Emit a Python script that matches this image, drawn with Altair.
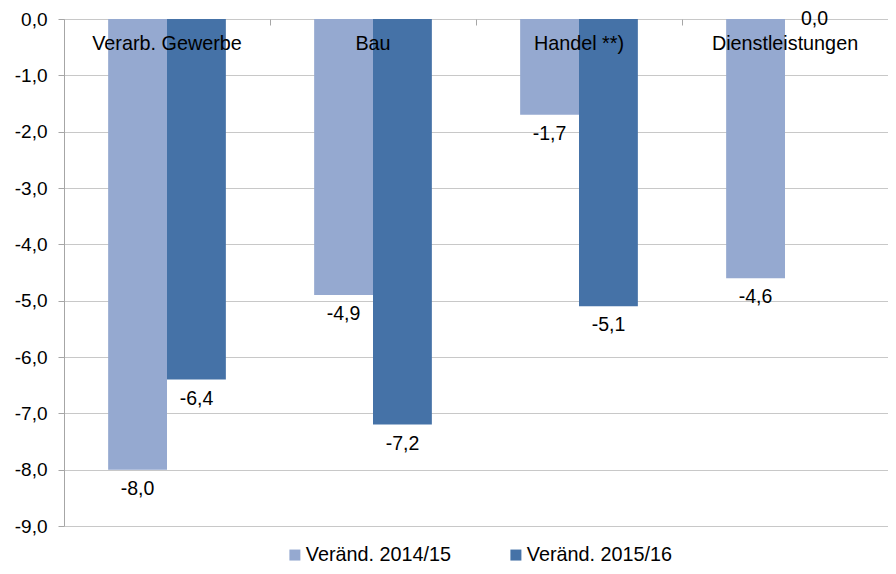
import altair as alt
import pandas as pd

categories = ["Verarb. Gewerbe", "Bau", "Handel **)", "Dienstleistungen"]
series = ["Veränd. 2014/15", "Veränd. 2015/16"]
values_2014_15 = [-8.0, -4.9, -1.7, -4.6]
values_2015_16 = [-6.4, -7.2, -5.1, 0.0]
colors = ["#95A9D0", "#4572A7"]
y_ticks = [0, -1, -2, -3, -4, -5, -6, -7, -8, -9]

rows = []
for s, vals in zip(series, [values_2014_15, values_2015_16]):
    for c, v in zip(categories, vals):
        rows.append({"category": c, "series": s, "value": v,
                     "label": f"{v:.1f}".replace(".", ",")})
df = pd.DataFrame(rows)
cat_df = pd.DataFrame({"category": categories})

FONT = "Liberation Sans"
FS = 19
FS_BIG = 19.8

x_scale = alt.Scale(paddingInner=0, paddingOuter=0)
x_enc = alt.X("category:N", sort=categories, scale=x_scale,
              axis=alt.Axis(orient="top", labels=False, title=None, domain=False,
                            tickBand="extent", tickSize=6, tickColor="#A6A6A6",
                            offset=-6))
y_enc = alt.Y("value:Q", scale=alt.Scale(domain=[-9, 0], nice=False),
              axis=alt.Axis(values=y_ticks, title=None, tickSize=6, tickColor="#A6A6A6",
                            domainColor="#A6A6A6", gridColor="#C8C8C8",
                            labelFontSize=FS, labelFont=FONT, labelColor="#000000",
                            labelPadding=11,
                            labelExpr="(datum.value < 0 ? '-' : '') + replace(format(abs(datum.value), '.1f'), '.', ',')"))
xoff = alt.XOffset("series:N", sort=series,
                   scale=alt.Scale(paddingInner=0, paddingOuter=0.75))

base = alt.Chart(df)

bars = base.mark_bar().encode(
    x=x_enc, xOffset=xoff, y=y_enc,
    color=alt.Color("series:N", sort=series,
                    scale=alt.Scale(domain=series, range=colors),
                    legend=alt.Legend(title=None, orient="none", direction="horizontal",
                                      legendX=221, legendY=526,
                                      symbolType="square", symbolSize=121,
                                      symbolStrokeWidth=0, labelOffset=1,
                                      labelFontSize=FS_BIG, labelFont=FONT,
                                      labelColor="#000000", columnPadding=55,
                                      labelLimit=300)),
)

neg_labels = base.transform_filter("datum.value < 0").mark_text(
    baseline="middle", dy=19, fontSize=19.5, font=FONT, color="#000000"
).encode(x=alt.X("category:N", sort=categories), xOffset=xoff, y="value:Q", text="label:N")

zero_labels = base.transform_filter("datum.value == 0").mark_text(
    baseline="middle", dy=0, fontSize=19.5, font=FONT, color="#000000"
).encode(x=alt.X("category:N", sort=categories), xOffset=xoff, y="value:Q", text="label:N")

cat_labels = alt.Chart(cat_df).mark_text(
    baseline="middle", fontSize=FS_BIG, font=FONT, color="#000000"
).encode(x=alt.X("category:N", sort=categories), y=alt.value(25), text="category:N")

chart = alt.layer(bars, neg_labels, zero_labels, cat_labels).properties(
    width=824, height=507,
    autosize=alt.AutoSizeParams(type="none"),
    padding={"left": 56, "top": 11, "right": 0, "bottom": 40},
).configure_view(stroke=None).configure_axis(grid=True).configure_axisX(grid=False)

chart.save("out.html", embed_options={"renderer": "svg", "actions": False})
